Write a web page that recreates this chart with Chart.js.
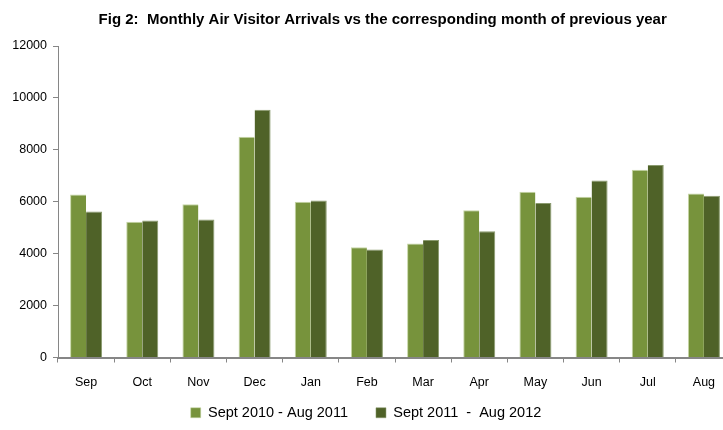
<!DOCTYPE html>
<html>
<head>
<meta charset="utf-8">
<script src="https://cdn.jsdelivr.net/npm/chart.js@4"></script>
<style>
  html, body { margin: 0; padding: 0; background: #fff; overflow: hidden; }
  #wrap { width: 760px; height: 430px; }
</style>
</head>
<body>
<div id="wrap"><canvas id="barChart" width="760" height="430"></canvas></div>
<script>
(function () {
    "use strict";

    var months = ["Sep", "Oct", "Nov", "Dec", "Jan", "Feb", "Mar", "Apr", "May", "Jun", "Jul", "Aug"];
    var prevYear = [6280, 5230, 5900, 8500, 6000, 4250, 4390, 5670, 6390, 6190, 7230, 6320];
    var currYear = [5620, 5280, 5320, 9540, 6050, 4160, 4530, 4860, 5950, 6820, 7420, 6230];
    var seriesNames = ["Sept 2010 - Aug 2011", "Sept 2011  -  Aug 2012"];
    var yTicks = [0, 2000, 4000, 6000, 8000, 10000, 12000];

    var fontFamily = "'Liberation Sans', sans-serif";
    var tickFont = { family: fontFamily, size: 12.5 };

    // legend padding also sets the gap between the two items, so pull the
    // legend box back up after layout instead of shrinking the padding
    var legendLift = 25;
    var legendNudge = {
        id: "legendNudge",
        afterLayout: function (chart) {
            chart.legend.top -= legendLift;
            chart.legend.bottom -= legendLift;
        }
    };

    var ctx = document.getElementById("barChart").getContext("2d");
    var barChart = new Chart(ctx, {
        type: 'bar',
        data: {
            labels: months,
            datasets: [
                {
                    label: seriesNames[0],
                    data: prevYear,
                    backgroundColor: "#77933C",
                    borderColor: "#C6D6A6",
                    borderWidth: { top: 1, left: 1, right: 0, bottom: 0 },
                    borderSkipped: false
                },
                {
                    label: seriesNames[1],
                    data: currYear,
                    backgroundColor: "#4F6228",
                    borderColor: "#8A9A6E",
                    borderWidth: { top: 1, left: 0, right: 1, bottom: 0 },
                    borderSkipped: false
                }
            ]
        },
        plugins: [legendNudge],
        options: {
            responsive: false,
            animation: false,
            layout: { padding: { left: 0, right: 28, top: 0, bottom: -legendLift } },
            categoryPercentage: 0.57,
            barPercentage: 1.0,
            plugins: {
                title: {
                    display: true,
                    // leading spaces nudge the centred title right, like the original
                    text: "        Fig 2:  Monthly Air Visitor Arrivals vs the corresponding month of previous year",
                    color: "#000",
                    font: { family: fontFamily, size: 15, weight: "bold" },
                    padding: { top: 11, bottom: 17 }
                },
                legend: {
                    position: "bottom",
                    labels: {
                        color: "#000",
                        boxWidth: 10,
                        boxHeight: 10,
                        padding: 28,
                        font: { family: fontFamily, size: 14.5 }
                    }
                },
                tooltip: { enabled: false }
            },
            scales: {
                x: {
                    grid: {
                        display: true,
                        drawOnChartArea: false,
                        drawTicks: true,
                        tickLength: 5,
                        color: "#868686"
                    },
                    border: { display: true, color: "#868686", width: 2 },
                    ticks: { color: "#000", font: tickFont, padding: 12.5 }
                },
                y: {
                    min: 0,
                    max: 12000,
                    afterBuildTicks: function (axis) {
                        axis.ticks = yTicks.map(function (v) { return { value: v }; });
                    },
                    afterFit: function (axis) {
                        axis.width = 58;
                    },
                    grid: {
                        display: true,
                        drawOnChartArea: false,
                        drawTicks: true,
                        tickLength: 5,
                        color: "#868686"
                    },
                    border: { display: true, color: "#868686", width: 1 },
                    ticks: {
                        color: "#000",
                        font: tickFont,
                        padding: 6,
                        callback: function (v) { return String(v); }
                    }
                }
            }
        }
    });
})();
</script>
</body>
</html>
